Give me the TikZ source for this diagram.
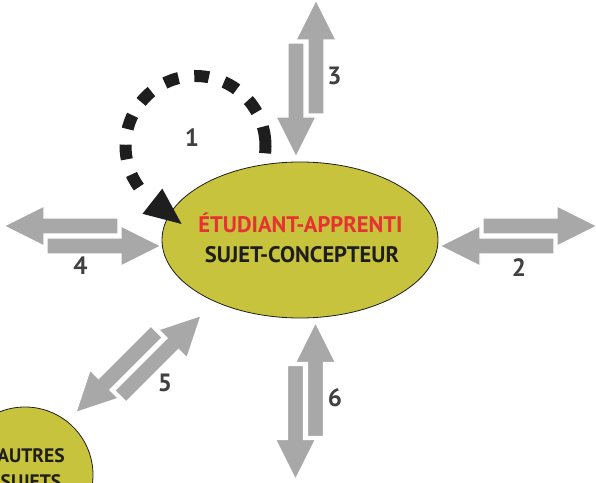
\documentclass[tikz,border=0pt]{standalone}
\usepackage{fontspec}
\setmainfont{PT Sans}
\usetikzlibrary{shapes.geometric}
\definecolor{olivefill}{RGB}{200,195,60}
\definecolor{arrowgray}{RGB}{168,168,168}
\definecolor{titlered}{RGB}{230,50,50}
\definecolor{labelgray}{RGB}{64,64,64}
\definecolor{loopblack}{RGB}{30,30,30}
\tikzset{
  blockarrow/.style={fill=arrowgray, draw=white, line width=1.2pt, line join=miter},
  dblarrow/.pic={
    \filldraw[blockarrow] (78.5,-10) -- (38.5,10) -- (38.5,-2) -- (-35.5,-2) -- (-35.5,-18) -- (38.5,-18) -- (38.5,-30) -- cycle;
    \filldraw[blockarrow] (-78.5,10) -- (-38.5,30) -- (-38.5,18) -- (35.5,18) -- (35.5,2) -- (-38.5,2) -- (-38.5,-10) -- cycle;
  },
  numlabel/.style={font=\fontsize{25}{25}\selectfont\bfseries, text=labelgray, inner sep=0pt},
  maintext/.style={font=\fontsize{22.5}{22.5}\selectfont\bfseries, inner sep=0pt, anchor=base},
  subtext/.style={font=\fontsize{19.5}{19.5}\selectfont\bfseries, text=loopblack, inner sep=0pt, anchor=base},
  loopline/.style={draw=loopblack, line width=12pt, line cap=butt}
}
\begin{document}
\begin{tikzpicture}[x=1pt,y=1pt]
\useasboundingbox (0,0) rectangle (596,482);
\begin{scope}
\clip (0,0) rectangle (596,482);
% small circle
\node[circle, draw=loopblack, line width=0.8pt, fill=olivefill, minimum size=136pt, inner sep=0pt] (others) at (25,7) {};
\node[subtext] (othersA) at (31,20) {AUTRES};
\node[subtext] (othersB) at (31,-6.5) {SUJETS};
% block arrows
\pic[rotate=90] at (306,403.5) {dblarrow};
\pic[rotate=90] at (305.5,81) {dblarrow};
\pic[rotate=180] at (82.5,246) {dblarrow};
\pic[yscale=-1] at (518.5,246) {dblarrow};
\pic[rotate=45] at (138.5,118) {dblarrow};
% main ellipse
\node[ellipse, draw=loopblack, line width=0.8pt, fill=olivefill, minimum width=276pt, minimum height=156pt, inner sep=0pt] (main) at (300,242) {};
\node[maintext, text=titlered] (line1) at (300.5,249) {ÉTUDIANT-APPRENTI};
\node[maintext, text=loopblack] (line2) at (302,219) {SUJET-CONCEPTEUR};
% self loop
\coordinate (c) at (195.5,336);
\draw[loopline] ([shift={(-6:70)}]c) arc[start angle=-6, end angle=16, radius=70];
\draw[loopline, dash pattern=on 14.66pt off 15.88pt] ([shift={(29:70)}]c) arc[start angle=29, end angle=216, radius=70];
\coordinate (tip) at (181.6,258);
\fill[loopblack] (tip) -- (142.5,268.2) -- (162.3,293.4) -- cycle;
% labels
\node[numlabel] (n1) at (192,344.5) {1};
\node[numlabel] (n2) at (519,214) {2};
\node[numlabel] (n3) at (334.5,406) {3};
\node[numlabel] (n4) at (80.5,216) {4};
\node[numlabel] (n5) at (165,99.5) {5};
\node[numlabel] (n6) at (335,84) {6};
\end{scope}
\end{tikzpicture}
\end{document}
